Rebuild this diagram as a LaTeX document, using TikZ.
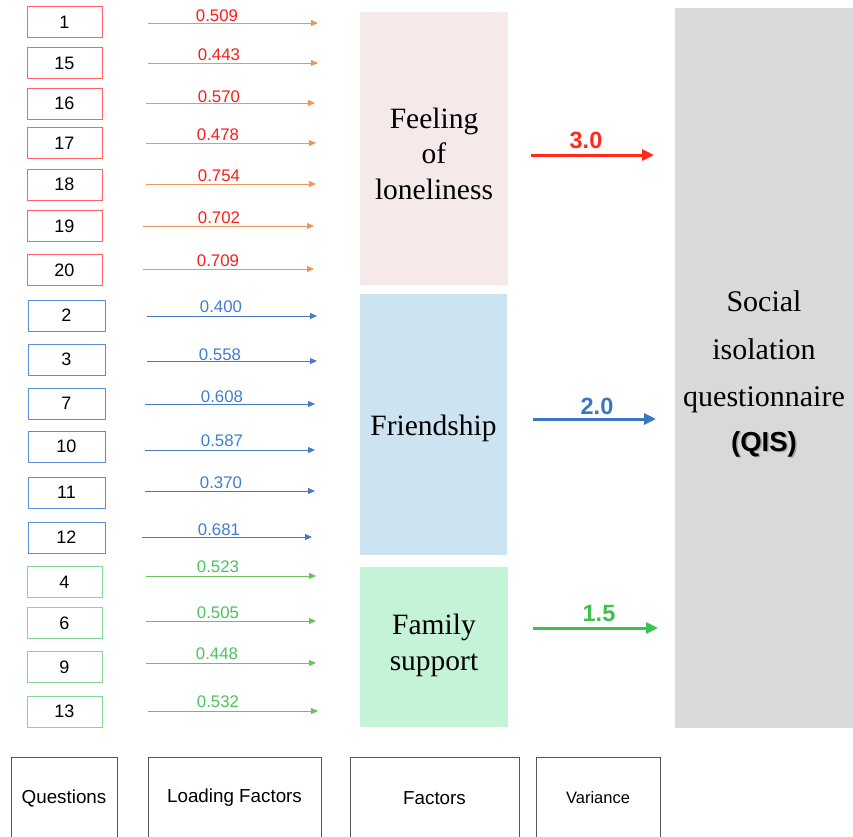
\documentclass[tikz,border=0pt]{standalone}
\usepackage{fontspec}
\setmainfont{Liberation Serif}
\setsansfont{Liberation Sans}
\usetikzlibrary{arrows.meta}
\definecolor{qred}{HTML}{FF6262}
\definecolor{labred}{HTML}{FF1A1A}
\definecolor{arrred}{HTML}{EE955C}
\definecolor{qblue}{HTML}{5A8ED8}
\definecolor{labblue}{HTML}{3F7DD2}
\definecolor{arrblue}{HTML}{4A78C8}
\definecolor{qgreen}{HTML}{84D894}
\definecolor{labgreen}{HTML}{4EC25E}
\definecolor{arrgreen}{HTML}{6CC15C}
\definecolor{fpink}{HTML}{F5E9E9}
\definecolor{fblue}{HTML}{CCE4F1}
\definecolor{fgreen}{HTML}{C5F3D7}
\definecolor{qisgray}{HTML}{D9D9D9}
\definecolor{varred}{HTML}{FF2A1A}
\definecolor{varblue}{HTML}{3A76C6}
\definecolor{vargreen}{HTML}{3CC24E}
\definecolor{legline}{HTML}{555555}
\begin{document}
\begin{tikzpicture}[x=1pt,y=-1pt,
  qbox/.style={draw, line width=0.9pt, minimum width=75pt, minimum height=31pt, inner sep=0pt,
    font=\fontsize{18}{21}\sffamily},
  lab/.style={inner sep=0pt, font=\fontsize{16.8}{19}\sffamily},
  load/.style={line width=0.9pt, -{Triangle[length=7pt,width=6pt]}},
  fbox/.style={inner sep=0pt, align=center, font=\fontsize{29.5}{35.5}\selectfont},
  varr/.style={line width=3pt, -{Triangle[length=12pt,width=11pt]}},
  vlab/.style={inner sep=0pt, font=\fontsize{23.5}{26}\sffamily\bfseries},
  legbox/.style={draw=legline, line width=0.8pt, inner sep=0pt, minimum height=82pt,
    font=\fontsize{18.8}{21}\sffamily}
]
\useasboundingbox (0,0) rectangle (853,836);

% Feeling of loneliness questions
\foreach \nm/\yc/\ya/\xa/\xb/\val/\ly/\lx in {
  1/22/23/148/318/0.509/16/217,
  15/63/63/148/318/0.443/55/219,
  16/103.5/103/146/315/0.570/97/219,
  17/143/143/146/316/0.478/135/218,
  18/184.5/184/146/316/0.754/176/219,
  19/226/226/143/314/0.702/218/219,
  20/270/269/143/314/0.709/261/218}{
  \node[qbox, draw=qred] (q\nm) at (64.5,\yc) {\nm};
  \coordinate (s\nm) at (\xa,\ya);
  \coordinate (e\nm) at (\xb,\ya);
  \draw[load, arrred] (s\nm) -- (e\nm);
  \node[lab, text=labred] (l\nm) at (\lx,\ly) {\val};
}

% Friendship questions
\foreach \nm/\yc/\ya/\xa/\xb/\val/\ly/\lx in {
  2/315.5/316/147/317/0.400/307/221,
  3/359.5/361/147/317/0.558/355/220,
  7/403.5/404/145/315/0.608/397/222,
  10/446.5/450/145/315/0.587/441/222,
  11/492.5/491/145/315/0.370/483/221,
  12/537.5/537/142/312/0.681/530/219}{
  \node[qbox, draw=qblue, minimum width=77pt] (q\nm) at (66.5,\yc) {\nm};
  \coordinate (s\nm) at (\xa,\ya);
  \coordinate (e\nm) at (\xb,\ya);
  \draw[load, arrblue] (s\nm) -- (e\nm);
  \node[lab, text=labblue] (l\nm) at (\lx,\ly) {\val};
}

% Family support questions
\foreach \nm/\yc/\ya/\xa/\xb/\val/\ly/\lx in {
  4/582/576/146/316/0.523/567/218,
  6/623/621/146/316/0.505/613/218,
  9/667/663/146/316/0.448/654/217,
  13/711.5/711/148/318/0.532/702/218}{
  \node[qbox, draw=qgreen] (q\nm) at (64.5,\yc) {\nm};
  \coordinate (s\nm) at (\xa,\ya);
  \coordinate (e\nm) at (\xb,\ya);
  \draw[load, arrgreen] (s\nm) -- (e\nm);
  \node[lab, text=labgreen] (l\nm) at (\lx,\ly) {\val};
}

% Factors
\node[fbox, fill=fpink, minimum width=148pt, minimum height=273pt] (f1) at (434,148.5) {};
\node[fbox] (t1) at (434,153.5) {Feeling\\of\\loneliness};
\node[fbox, fill=fblue, minimum width=147pt, minimum height=261pt] (f2) at (433.5,424.5) {};
\node[fbox] (t2) at (433.5,428) {Friendship};
\node[fbox, fill=fgreen, minimum width=148pt, minimum height=160pt] (f3) at (434,647) {};
\node[fbox] (t3) at (434,645.5) {Family\\support};

% QIS
\node[fill=qisgray, minimum width=178pt, minimum height=720pt, inner sep=0pt] (qis) at (764,368) {};
\node[fbox, font=\fontsize{30}{47.5}\selectfont] (qist) at (764,352) {Social\\isolation\\questionnaire};
\node[inner sep=0pt, text=black!35, font=\fontsize{27.5}{30}\sffamily\bfseries] (qissh) at (765.5,445.5) {(QIS)};
\node[inner sep=0pt, font=\fontsize{27.5}{30}\sffamily\bfseries] (qisl) at (764,444) {(QIS)};

% Variance arrows
\coordinate (v1s) at (531,155); \coordinate (v1e) at (654,155);
\draw[varr, varred] (v1s) -- (v1e);
\node[vlab, text=varred] (v1l) at (586,140) {3.0};
\coordinate (v2s) at (533,419); \coordinate (v2e) at (656,419);
\draw[varr, varblue] (v2s) -- (v2e);
\node[vlab, text=varblue] (v2l) at (597,406) {2.0};
\coordinate (v3s) at (533,628); \coordinate (v3e) at (658,628);
\draw[varr, vargreen] (v3s) -- (v3e);
\node[vlab, text=vargreen] (v3l) at (599,614) {1.5};

% Legend boxes (open at the bottom edge)
\node[legbox, minimum width=106pt] (g1) at (64,798) {Questions};
\node[legbox, minimum width=173pt] (g2) at (234.5,798) {Loading Factors};
\node[legbox, minimum width=169pt] (g3) at (434.5,798) {Factors};
\node[legbox, minimum width=124pt, font=\fontsize{16.5}{19}\sffamily] (g4) at (598,798) {Variance};
\end{tikzpicture}
\end{document}
